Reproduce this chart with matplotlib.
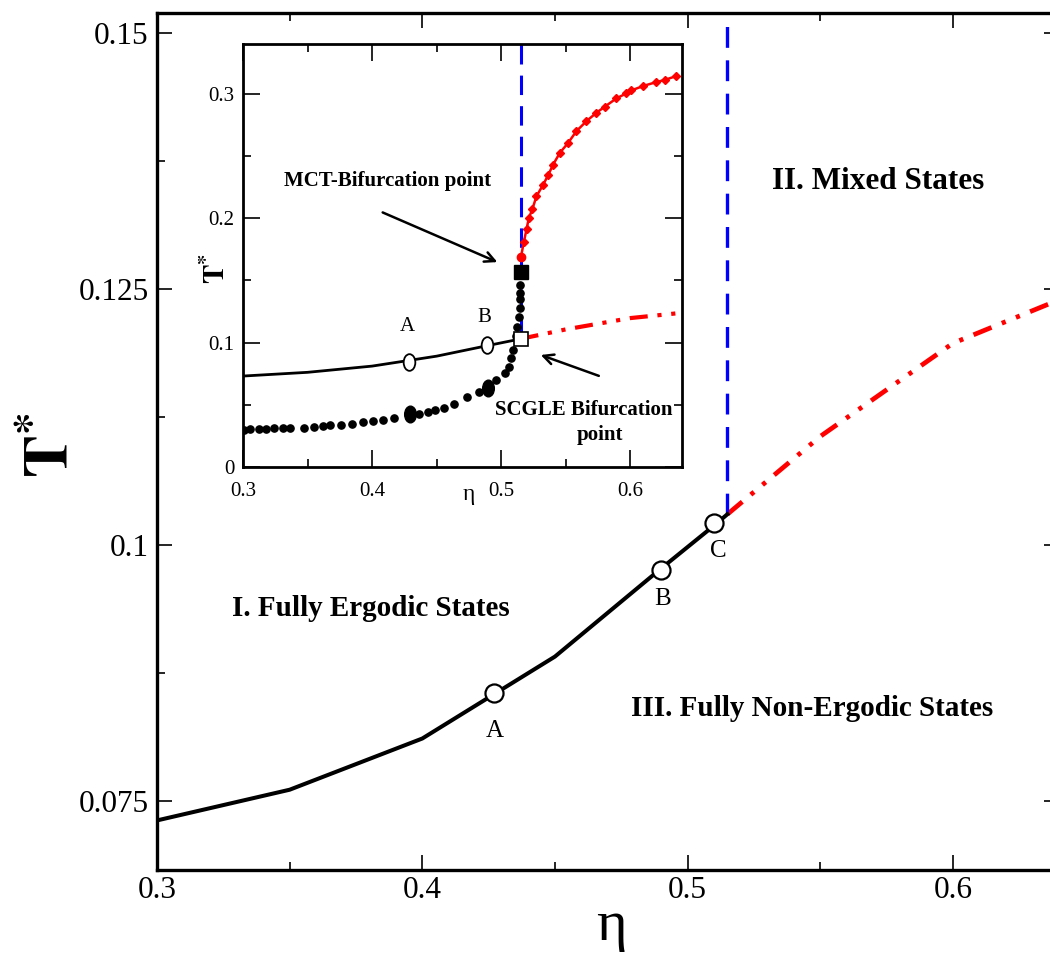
import numpy as np
import matplotlib
matplotlib.use("Agg")
import matplotlib.pyplot as plt
from matplotlib.path import Path
from matplotlib.transforms import Affine2D
from matplotlib.ticker import MultipleLocator

# ---- data ----
# boundary between regions I and III (black line, main + inset)
eta_glass = [0.30, 0.35, 0.40, 0.45, 0.49, 0.51, 0.515]
T_glass = [0.0731, 0.0761, 0.0811, 0.0891, 0.0977, 0.1019, 0.1030]

# marked states A, B, C on the main curve
mark_labels = ["A", "B", "C"]
mark_eta = [0.427, 0.490, 0.510]
mark_T = [0.0855, 0.0976, 0.1021]

# red dash-dot continuation beyond the bifurcation
eta_red = [0.515, 0.55, 0.60, 0.65]
T_red = [0.1030, 0.1106, 0.1197, 0.1250]

eta_bif = 0.515

# inset: upper (MCT) branch, red solid with diamonds
eta_mct = [0.5152, 0.5175, 0.5196, 0.5214, 0.5242, 0.5273, 0.5325, 0.5363,
           0.5402, 0.5454, 0.5518, 0.5582, 0.5660, 0.5737, 0.5802, 0.5892,
           0.5969, 0.6008, 0.6098, 0.6201, 0.6265, 0.6356]
T_mct = [0.1684, 0.1808, 0.1912, 0.2001, 0.2076, 0.2176, 0.2270, 0.2345,
         0.2431, 0.2525, 0.2605, 0.2699, 0.2780, 0.2847, 0.2896, 0.2963,
         0.3003, 0.3027, 0.3062, 0.3094, 0.3110, 0.3143]

# inset: black dotted branch
eta_dots = [0.3005, 0.3052, 0.3121, 0.3178, 0.3237, 0.3307, 0.3366, 0.3469,
            0.3552, 0.3619, 0.3675, 0.3760, 0.3845, 0.3928, 0.4010, 0.4088,
            0.4173, 0.4294, 0.4366, 0.4430, 0.4490, 0.4557, 0.4637, 0.4737,
            0.4825, 0.4894, 0.4959, 0.5026, 0.5062, 0.5075, 0.5088, 0.5113,
            0.5124, 0.5137, 0.5144, 0.5144, 0.5144, 0.5144]
T_dots = [0.0301, 0.0303, 0.0306, 0.0306, 0.0312, 0.0312, 0.0312, 0.0314,
          0.0322, 0.0330, 0.0338, 0.0341, 0.0349, 0.0360, 0.0371, 0.0381,
          0.0392, 0.0424, 0.0424, 0.0443, 0.0457, 0.0475, 0.0510, 0.0559,
          0.0604, 0.0639, 0.0698, 0.0752, 0.0806, 0.0873, 0.0940, 0.1053,
          0.1128, 0.1203, 0.1276, 0.1348, 0.1397, 0.1464]
big_dot_eta = [0.4294, 0.4894]
big_dot_T = [0.0424, 0.0639]

inset_ab_eta = [0.4286, 0.4887]
inset_ab_T = [0.0846, 0.0980]
mct_point = (0.515, 0.1566)
scgle_point = (0.515, 0.1030)

plt.rcParams['font.family'] = ['Liberation Serif', 'DejaVu Serif']
plt.rcParams['mathtext.fontset'] = 'stix'
plt.rcParams['lines.scale_dashes'] = False

fig = plt.figure(figsize=(10.5, 9.64), dpi=100)

dashdotdot = (0, (14, 8, 3, 8, 3, 8))
blue_dash = (0, (15, 9))
ellipse = Path.unit_circle().transformed(Affine2D().scale(0.7, 1.0))


def style_axes(ax, lw, major, minor, size):
    for s in ax.spines.values():
        s.set_linewidth(lw)
    ax.tick_params(which='both', direction='in', top=True, right=True,
                   width=1.2, labelsize=size)
    ax.tick_params(which='major', length=major)
    ax.tick_params(which='minor', length=minor)


# ---- main axes ----
ax = fig.add_axes([157 / 1050, 94 / 964, 902 / 1050, 857 / 964])
ax.set_xlim(0.3, 0.64)
ax.set_ylim(0.06826, 0.15195)
ax.xaxis.set_major_locator(MultipleLocator(0.1))
ax.xaxis.set_minor_locator(MultipleLocator(0.05))
ax.yaxis.set_major_locator(MultipleLocator(0.025))
ax.yaxis.set_minor_locator(MultipleLocator(0.0125))
ax.set_xticks([0.3, 0.4, 0.5, 0.6])
ax.set_xticklabels(['0.3', '0.4', '0.5', '0.6'])
ax.set_yticks([0.075, 0.1, 0.125, 0.15])
ax.set_yticklabels(['0.075', '0.1', '0.125', '0.15'])
style_axes(ax, 2.4, 11, 6, 22.5)
ax.tick_params(axis='y', pad=6)
ax.tick_params(axis='x', pad=4)

ax.plot(eta_glass, T_glass, color='black', lw=2.9, zorder=3)
ax.plot(eta_red, T_red, color='red', lw=3.4, linestyle=dashdotdot, zorder=2)
ax.plot([eta_bif, eta_bif], [T_glass[-1], 0.16], color='blue', lw=2.4,
        linestyle=blue_dash, zorder=2)
ax.plot(mark_eta, mark_T, linestyle='none', marker='o', ms=13,
        mfc='white', mec='black', mew=1.6, zorder=4)

lab_pos = [(0.4274, 0.0818), (0.4906, 0.0947), (0.5117, 0.0994)]
for lab, (x, y) in zip(mark_labels, lab_pos):
    ax.text(x, y, lab, fontsize=18, ha='center', va='center')

ax.text(0.5718, 0.1355, 'II. Mixed States', fontsize=22.5,
        fontweight='bold', ha='center', va='center')
ax.text(0.3808, 0.0938, 'I. Fully Ergodic States', fontsize=21,
        fontweight='bold', ha='center', va='center')
ax.text(0.5470, 0.0840, 'III. Fully Non-Ergodic States', fontsize=21,
        fontweight='bold', ha='center', va='center')

fig.text(53 / 1050, 1 - 445 / 964, r'$\mathbf{T}^{\mathbf{*}}$', fontsize=46,
         rotation=90, ha='center', va='center')
fig.text(611 / 1050, 1 - 940 / 964, 'η', fontsize=42,
         ha='center', va='baseline')

# ---- inset ----
ins = fig.add_axes([243 / 1050, 497 / 964, 439 / 1050, 423 / 964])
ins.set_xlim(0.3, 0.64)
ins.set_ylim(0, 0.34)
ins.set_xticks([0.3, 0.4, 0.5, 0.6])
ins.set_xticklabels(['0.3', '0.4', '0.5', '0.6'])
ins.set_yticks([0, 0.1, 0.2, 0.3])
ins.set_yticklabels(['0', '0.1', '0.2', '0.3'])
ins.xaxis.set_minor_locator(MultipleLocator(0.05))
ins.yaxis.set_minor_locator(MultipleLocator(0.05))
style_axes(ins, 2.0, 12, 6, 15)
ins.tick_params(axis='y', pad=6)
ins.tick_params(axis='x', pad=11)

ins.plot([eta_bif, eta_bif], [scgle_point[1], 0.36], color='blue', lw=2.2,
         linestyle=(0, (14, 8)), zorder=1)
ins.plot(eta_glass, T_glass, color='black', lw=2.0, zorder=3)
ins.plot(eta_red, T_red, color='red', lw=3.0,
         linestyle=(0, (13, 7, 3, 7, 3, 7)), zorder=2)
ins.plot(eta_mct, T_mct, color='red', lw=1.8, marker='D', ms=4.5,
         mfc='red', mec='red', zorder=3)
ins.plot(eta_mct[0], T_mct[0], marker='o', ms=6, color='red', zorder=4)
ins.plot(eta_dots, T_dots, linestyle='none', marker='o', ms=5.2,
         color='black', zorder=3)
ins.plot(big_dot_eta, big_dot_T, linestyle='none', marker=ellipse, ms=12,
         color='black', zorder=4)
ins.plot(inset_ab_eta, inset_ab_T, linestyle='none', marker=ellipse, ms=12,
         mfc='white', mec='black', mew=1.3, zorder=4)
ins.plot(*mct_point, marker='s', ms=9.5, color='black', zorder=5)
ins.plot(*scgle_point, marker='s', ms=9.5, mfc='white', mec='black',
         mew=1.2, zorder=5)

ins.text(0.4274, 0.1126, 'A', fontsize=15, ha='center', va='center')
ins.text(0.4871, 0.1199, 'B', fontsize=15, ha='center', va='center')

ins.text(0.4119, 0.2301, 'MCT-Bifurcation point', fontsize=15,
         fontweight='bold', ha='center', va='center')
ins.text(0.5638, 0.0459, 'SCGLE Bifurcation', fontsize=15,
         fontweight='bold', ha='center', va='center')
ins.text(0.5763, 0.0257, 'point', fontsize=15,
         fontweight='bold', ha='center', va='center')

ins.annotate('', xy=(0.4990, 0.1638), xytext=(0.4062, 0.2055),
             arrowprops=dict(arrowstyle='->', color='black', lw=1.8,
                             mutation_scale=18))
ins.annotate('', xy=(0.5286, 0.0908), xytext=(0.5776, 0.0725),
             arrowprops=dict(arrowstyle='->', color='black', lw=1.8,
                             mutation_scale=18))

fig.text(217 / 1050, 1 - 268 / 964, r'$\mathbf{T}^{\mathbf{*}}$', fontsize=21,
         rotation=90, ha='center', va='center')
fig.text(469 / 1050, 1 - 500 / 964, 'η', fontsize=17,
         ha='center', va='baseline')

fig.savefig('out.png', dpi=100)
